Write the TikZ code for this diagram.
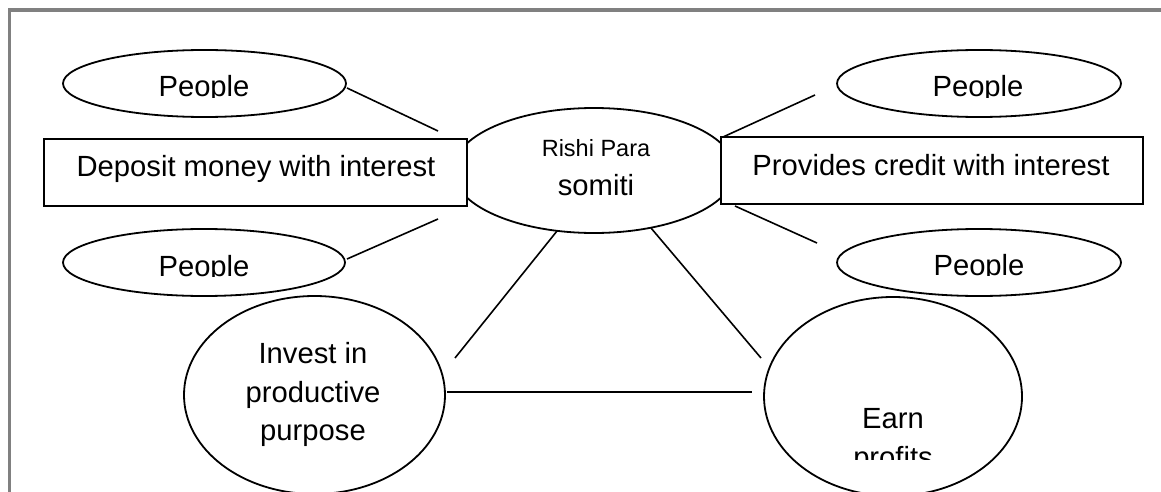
\documentclass[tikz,border=0pt]{standalone}
\usepackage{fontspec}
\setmainfont{Liberation Sans}
\usetikzlibrary{shapes.geometric}
\begin{document}
\begin{tikzpicture}[x=1pt,y=-1pt,
  shapeline/.style={draw=black, line width=1.8pt},
  oval/.style={shapeline, ellipse, inner sep=0pt, fill=white},
  rectbox/.style={shapeline, rectangle, inner sep=0pt, fill=white},
  txt/.style={anchor=base, inner sep=0pt, font=\fontsize{29.2}{38}\selectfont},
  smalltxt/.style={anchor=base, inner sep=0pt, font=\fontsize{23.5}{28}\selectfont},
  link/.style={draw=black, line width=1.6pt},
  frameline/.style={draw={rgb,255:red,128;green,128;blue,128}, line width=3.5pt}]
\useasboundingbox (0,0) rectangle (1161,492);
% frame
\coordinate (fTR) at (1161,10);
\coordinate (fTL) at (9.5,10);
\coordinate (fBL) at (9.5,492);
\draw[frameline] (fTR) -- (fTL) -- (fBL);
% central ellipse and boxes
\node[oval, minimum width=282pt, minimum height=125pt] (cen) at (594,170.5) {};
\node[rectbox, minimum width=423pt, minimum height=67pt] (dep) at (255.5,172.5) {};
\node[rectbox, minimum width=422pt, minimum height=67pt] (prov) at (932,170.5) {};
% people ellipses
\node[oval, minimum width=283pt, minimum height=67pt] (pTL) at (204.5,83.5) {};
\node[oval, minimum width=282pt, minimum height=67pt] (pBL) at (204,262.5) {};
\node[oval, minimum width=284pt, minimum height=67pt] (pTR) at (979,83.5) {};
\node[oval, minimum width=284pt, minimum height=67pt] (pBR) at (979,262.5) {};
% lower ellipses
\node[oval, minimum width=261pt, minimum height=198pt] (inv) at (314.5,395) {};
\node[oval, minimum width=258pt, minimum height=199pt] (earn) at (893,396.5) {};
% connector ends
\coordinate (l1a) at (347,88);  \coordinate (l1b) at (438,131);
\coordinate (l2a) at (347,259); \coordinate (l2b) at (438,219);
\coordinate (l3a) at (815,95);  \coordinate (l3b) at (723,137);
\coordinate (l4a) at (735,206); \coordinate (l4b) at (817,243);
\coordinate (l5a) at (557,231); \coordinate (l5b) at (455,358);
\coordinate (l6a) at (651,228); \coordinate (l6b) at (761,358);
\coordinate (l7a) at (447,392); \coordinate (l7b) at (752,392);
\draw[link] (l1a) -- (l1b);
\draw[link] (l2a) -- (l2b);
\draw[link] (l3a) -- (l3b);
\draw[link] (l4a) -- (l4b);
\draw[link] (l5a) -- (l5b);
\draw[link] (l6a) -- (l6b);
\draw[link] (l7a) -- (l7b);
% texts
\begin{scope}
\clip (150,60) rectangle (260,97.6);
\node[txt] (tP1) at (204,97) {People};
\end{scope}
\begin{scope}
\clip (150,240) rectangle (260,276.6);
\node[txt] (tP2) at (204,276) {People};
\end{scope}
\begin{scope}
\clip (920,60) rectangle (1040,97.6);
\node[txt] (tP3) at (978,97) {People};
\end{scope}
\begin{scope}
\clip (920,240) rectangle (1040,275.6);
\node[txt] (tP4) at (979,275) {People};
\end{scope}
\node[txt] (tDep) at (256,176) {Deposit money with interest};
\node[txt] (tProv) at (931,175) {Provides credit with interest};
\node[smalltxt] (tRishi) at (596,157) {Rishi Para};
\node[txt] (tSom) at (596,195) {somiti};
\node[txt] (tInv1) at (313,363) {Invest in};
\node[txt] (tInv2) at (313,402) {productive};
\node[txt] (tInv3) at (313,440) {purpose};
\node[txt] (tEarn) at (893,428) {Earn};
\begin{scope}
\clip (820,440) rectangle (970,459.5);
\node[txt] (tProf) at (893,467) {profits};
\end{scope}
\end{tikzpicture}
\end{document}
